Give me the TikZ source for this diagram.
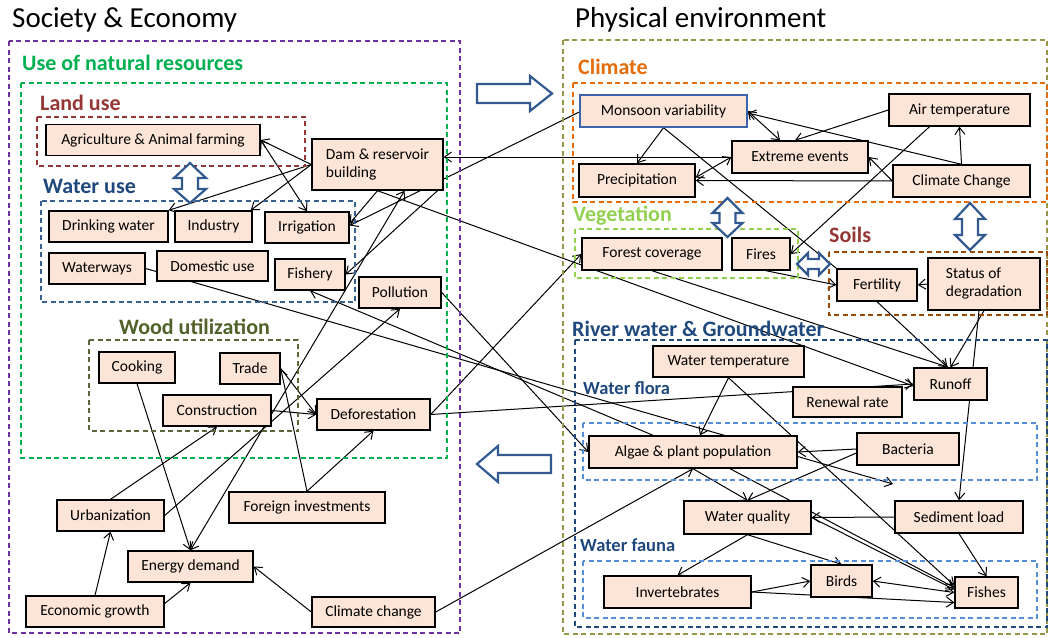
\documentclass[tikz,border=0pt]{standalone}
\usepackage{fontspec}
\setmainfont{Carlito}
\usetikzlibrary{arrows.meta}
\definecolor{boxfill}{RGB}{252,228,214}
\definecolor{socpurple}{RGB}{112,48,160}
\definecolor{resgreen}{RGB}{0,176,80}
\definecolor{landred}{RGB}{149,55,53}
\definecolor{navy}{RGB}{31,73,125}
\definecolor{waterdash}{RGB}{55,96,146}
\definecolor{woodolive}{RGB}{79,98,40}
\definecolor{physolive}{RGB}{150,150,70}
\definecolor{climorange}{RGB}{228,108,10}
\definecolor{veggreen}{RGB}{146,208,80}
\definecolor{soilbrown}{RGB}{152,72,7}
\definecolor{lightblue}{RGB}{85,142,213}
\definecolor{blkblue}{RGB}{50,90,145}
\definecolor{monblue}{RGB}{60,100,170}
\pgfdeclarelayer{back}
\pgfsetlayers{back,main}
\begin{document}
\begin{tikzpicture}[x=1pt,y=-1pt,
  item/.style={draw=black,line width=1.4pt,fill=boxfill,inner sep=0pt,
    font=\fontsize{15.5}{18}\selectfont},
  grp/.style={line width=1.3pt,dash pattern=on 5pt off 3.5pt},
  lbl/.style={anchor=west,inner sep=0pt,font=\bfseries\fontsize{22}{24}\selectfont},
  sublbl/.style={anchor=west,inner sep=0pt,font=\bfseries\fontsize{18.5}{20}\selectfont},
  link/.style={line width=1pt,->,>={Straight Barb[length=7pt,width=10pt]}},
  blk/.style={draw=blkblue,line width=2.2pt,fill=white,line join=miter}]
\useasboundingbox (0,0) rectangle (1049,637);

\node[anchor=west,inner sep=0pt,font=\fontsize{29}{31}\selectfont] (soc) at (12,20) {Society \& Economy};
\node[anchor=west,inner sep=0pt,font=\fontsize{29}{31}\selectfont] (phys) at (575,20) {Physical environment};

\draw[grp,socpurple] (9,41) rectangle (460,633);
\node[lbl,resgreen] (natres) at (22,63) {Use of natural resources};
\draw[grp,resgreen] (21,83) rectangle (447,458);
\node[lbl,landred] (landlbl) at (40,103) {Land use};
\draw[grp,landred] (37,117) rectangle (305,166);
\node[lbl,navy] (waterlbl) at (43,186) {Water use};
\draw[grp,waterdash] (41,201) rectangle (355,302);
\node[lbl,woodolive] (woodlbl) at (119,327) {Wood utilization};
\draw[grp,woodolive!80!gray] (89,340) rectangle (298,431);

\draw[grp,physolive] (563,40) rectangle (1047,634);
\node[lbl,climorange] (climlbl) at (578,67) {Climate};
\draw[grp,climorange] (573,83) rectangle (1047,202);
\node[lbl,veggreen] (veglbl) at (573,216) {Vegetation};
\draw[grp,veggreen] (575,229) rectangle (798,278);
\node[lbl,landred] (soillbl) at (829,235) {Soils};
\draw[grp,soilbrown] (829,252) rectangle (1047,315);
\node[lbl,navy] (riverlbl) at (572,329) {River water \& Groundwater};
\draw[grp,navy] (575,340) rectangle (1047,627);
\node[sublbl,navy] (floralbl) at (583,388) {Water flora};
\draw[grp,lightblue] (583,423) rectangle (1037,480);
\node[sublbl,navy] (faunalbl) at (580,545) {Water fauna};
\draw[grp,lightblue] (583,561) rectangle (1037,618);

\draw[blk] (477,84) -- (530,84) -- (530,76) -- (552,93.5) -- (530,111) -- (530,103) -- (477,103) -- cycle;
\draw[blk] (551,455) -- (498,455) -- (498,446) -- (477,464) -- (498,482) -- (498,473) -- (551,473) -- cycle;

\def\ax{190}
\draw[blk] (\ax-8,178) -- (\ax-16,178) -- (\ax,163) -- (\ax+16,178) -- (\ax+8,178) -- (\ax+8,189)
  -- (\ax+16,189) -- (\ax,203) -- (\ax-16,189) -- (\ax-8,189) -- cycle;
\def\ax{727.5}
\draw[blk] (\ax-8,213) -- (\ax-15,213) -- (\ax,198) -- (\ax+15,213) -- (\ax+8,213) -- (\ax+8,223)
  -- (\ax+15,223) -- (\ax,237) -- (\ax-15,223) -- (\ax-8,223) -- cycle;
\def\ax{970}
\draw[blk] (\ax-8,219) -- (\ax-15,219) -- (\ax,203) -- (\ax+15,219) -- (\ax+8,219) -- (\ax+8,235)
  -- (\ax+15,235) -- (\ax,250) -- (\ax-15,235) -- (\ax-8,235) -- cycle;
\def\ay{264}
\draw[blk] (808,\ay-5) -- (808,\ay-11) -- (797,\ay) -- (808,\ay+11) -- (808,\ay+5) -- (819,\ay+5)
  -- (819,\ay+11) -- (830,\ay) -- (819,\ay-11) -- (819,\ay-5) -- cycle;

\node[item,minimum width=214,minimum height=31] (agri) at (153,140) {Agriculture \& Animal farming};
\node[item,minimum width=131,minimum height=51,align=left] (dam) at (377.5,164.5) {Dam \& reservoir\\building};
\node[item,minimum width=119,minimum height=31] (drink) at (108.5,226.5) {Drinking water};
\node[item,minimum width=77,minimum height=31] (industry) at (213.5,226.5) {Industry};
\node[item,minimum width=84,minimum height=31] (irrig) at (307,227.5) {Irrigation};
\node[item,minimum width=96,minimum height=31] (waterways) at (97,268.5) {Waterways};
\node[item,minimum width=111,minimum height=30] (domestic) at (212.5,266) {Domestic use};
\node[item,minimum width=70,minimum height=31] (fishery) at (310,274.5) {Fishery};
\node[item,minimum width=82,minimum height=31] (pollution) at (400,292.5) {Pollution};
\node[item,minimum width=76,minimum height=31] (cooking) at (137,367.5) {Cooking};
\node[item,minimum width=60,minimum height=31] (trade) at (250,368.5) {Trade};
\node[item,minimum width=108,minimum height=31] (constr) at (217,410.5) {Construction};
\node[item,minimum width=113,minimum height=31] (defor) at (373.5,414.5) {Deforestation};
\node[item,minimum width=107,minimum height=31] (urban) at (110.5,515.5) {Urbanization};
\node[item,minimum width=156,minimum height=31] (foreign) at (307,507.5) {Foreign investments};
\node[item,minimum width=125,minimum height=31] (energy) at (190.5,566.5) {Energy demand};
\node[item,minimum width=138,minimum height=31] (econ) at (95,611.5) {Economic growth};
\node[item,minimum width=123,minimum height=30] (climchg) at (373.5,612) {Climate change};

\node[item,draw=monblue,minimum width=167,minimum height=32] (monsoon) at (663.5,111) {Monsoon variability};
\node[item,minimum width=141,minimum height=32] (airtemp) at (959.5,110) {Air temperature};
\node[item,minimum width=136,minimum height=32] (extreme) at (800,157) {Extreme events};
\node[item,minimum width=116,minimum height=33] (precip) at (637,180.5) {Precipitation};
\node[item,minimum width=137,minimum height=32] (climate) at (961.5,181) {Climate Change};
\node[item,minimum width=140,minimum height=32] (forest) at (652,254) {Forest coverage};
\node[item,minimum width=58,minimum height=32] (fires) at (761,254) {Fires};
\node[item,minimum width=80,minimum height=32] (fertility) at (877,285) {Fertility};
\node[item,minimum width=112,minimum height=52,align=left] (status) at (984,284) {Status of\\degradation};
\node[item,minimum width=151,minimum height=31] (wtemp) at (728.5,361.5) {Water temperature};
\node[item,minimum width=73,minimum height=32] (runoff) at (950.5,384) {Runoff};
\node[item,minimum width=109,minimum height=30] (renewal) at (847.5,402) {Renewal rate};
\node[item,minimum width=208,minimum height=32] (algae) at (693,452) {Algae \& plant population};
\node[item,minimum width=102,minimum height=32] (bacteria) at (908,449) {Bacteria};
\node[item,minimum width=127,minimum height=33] (wquality) at (747.5,517.5) {Water quality};
\node[item,minimum width=128,minimum height=32] (sediment) at (959,517) {Sediment load};
\node[item,minimum width=147,minimum height=32] (invert) at (677.5,592) {Invertebrates};
\node[item,minimum width=61,minimum height=32] (birds) at (841.5,581) {Birds};
\node[item,minimum width=63,minimum height=31] (fishes) at (986.5,592.5) {Fishes};
\coordinate (wwend) at (893,484);

\begin{pgfonlayer}{back}
\draw[link] (dam.west) -- (agri.east);
\draw[link] (dam.west) -- (drink.north east);
\draw[link] (dam.west) -- ([xshift=-2]industry.north east);
\draw[link,<->] (agri.east) -- (irrig.north);
\draw[link] (dam.south) -- ([yshift=4]irrig.east);
\draw[link] ([yshift=-1]monsoon.west) -- ([yshift=2]irrig.east);
\draw[link] ([xshift=60]dam.south) -- (fishery.east);
\draw[link,<->] (energy.north) -- ([xshift=27]dam.south);
\draw[link] (waterways.east) -- (wwend);
\draw[link] ([xshift=-40]algae.north) -- (fishery.south);
\draw[link] (cooking.south) -- (energy.north);
\draw[link] (urban.north) -- (constr.south);
\draw[link] (urban.east) -- (pollution.south);
\draw[link] (econ.north) -- (urban.south);
\draw[link] ([yshift=8]econ.east) -- (energy.south);
\draw[link] (climchg.west) -- (energy.east);
\draw[link] (climchg.east) -- (algae.south);
\draw[link] (constr.east) -- (defor.west);
\draw[link] (trade.east) -- (defor.west);
\draw[link] (foreign.north) -- (trade.east);
\draw[link] (foreign.north) -- (defor.south);
\draw[link] (defor.east) -- (forest.west);
\draw[link] (defor.east) -- (runoff.west);
\draw[link] (pollution.east) -- (algae.west);
\draw[link] (dam.south) -- ([yshift=-2]runoff.west);
\draw[link] (extreme.west) -- (extreme.west -| dam.east);

\draw[link] (monsoon.south) -- (precip.north);
\draw[line width=1pt] (monsoon.south) -- (fertility.north west);
\draw[link,<->] (monsoon.east) -- ([xshift=-20]extreme.north);
\draw[link] (climate.north) -- ([yshift=-2]monsoon.east);
\draw[link] (airtemp.west) -- ([xshift=-5]extreme.north);
\draw[link] (climate.north) -- (airtemp.south);
\draw[link] (climate.west) -- (extreme.east);
\draw[link] (climate.west) -- (precip.east);
\draw[link,<->] ([yshift=3]precip.east) -- (extreme.west);
\draw[link] ([xshift=-30]airtemp.south) -- (fires.east);
\draw[link] ([xshift=5]fires.south) -- (fertility.west);
\draw[link] (status.west) -- (fertility.east);
\draw[link] (fertility.south) -- ([xshift=-3]runoff.north);
\draw[link] (status.south) -- (runoff.north);
\draw[link] ([xshift=-5]status.south) -- (sediment.north);
\draw[link] (forest.south) -- ([xshift=-2]runoff.north);

\draw[link] (wtemp.south) -- ([xshift=7]algae.north);
\draw[link] (wtemp.south) -- ([yshift=7]fishes.west);
\draw[link] (bacteria.west) -- (algae.east);
\draw[link] ([yshift=-4]bacteria.west) -- (wquality.north);
\draw[link] (algae.south) -- (wquality.north);
\draw[link] ([xshift=37]algae.south) -- ([yshift=5]fishes.west);
\draw[link] (sediment.west) -- (wquality.east);
\draw[link] (wquality.east) -- ([yshift=3]fishes.west);
\draw[link] (wquality.south) -- (invert.north);
\draw[link] (wquality.south) -- (birds.north);
\draw[link] (invert.east) -- (birds.west);
\draw[link] (invert.east) -- ([yshift=-10]fishes.west);
\draw[link,<->] (birds.east) -- (fishes.west);
\draw[link] (sediment.south) -- (fishes.north);
\end{pgfonlayer}
\end{tikzpicture}
\end{document}
